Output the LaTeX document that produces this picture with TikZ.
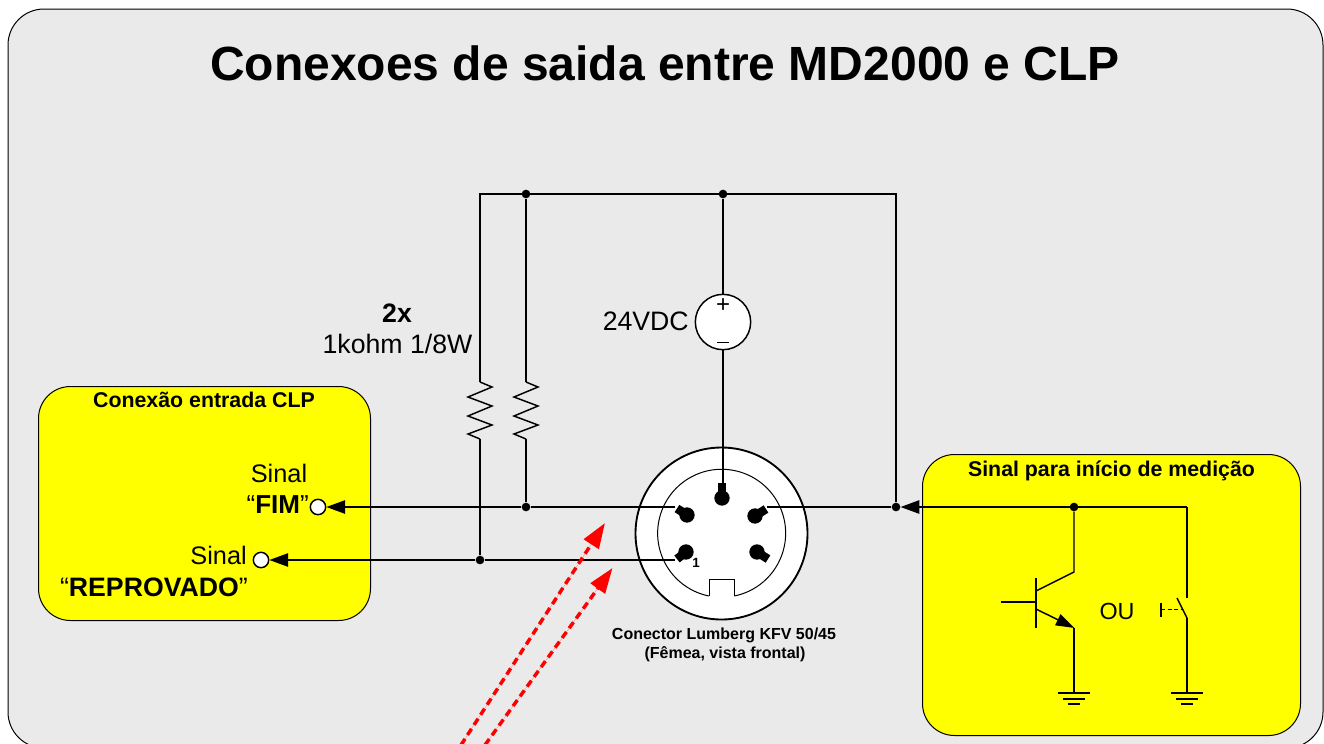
\documentclass[tikz,border=0pt]{standalone}
\usepackage{fontspec}
\setmainfont{Liberation Sans}
\usetikzlibrary{arrows.meta}
\definecolor{panelgray}{RGB}{234,234,234}
\definecolor{boxyellow}{RGB}{255,255,0}
\definecolor{arrowred}{RGB}{255,0,0}
\tikzset{
  x=0.75pt,y=-0.75pt,
  wire/.style={draw=black,line width=1.1pt},
  thin wire/.style={draw=black,line width=0.75pt},
  yellowbox/.style={draw=black,fill=boxyellow,line width=0.75pt},
  dotnode/.style={circle,fill=black,draw=none,inner sep=0pt,minimum size=6.5pt},
  terminal/.style={circle,fill=white,draw=black,line width=1.1pt,inner sep=0pt,minimum size=11.5pt},
  txt/.style={inner sep=0pt,align=center,text=black},
  tip/.style={-{Triangle[length=14pt,width=10pt]}},
  redarrow/.style={draw=arrowred,fill=arrowred,line width=2.6pt,dash pattern=on 5.5pt off 3.5pt,-{Triangle[length=19pt,width=13pt,fill=arrowred,sep=0pt]}},
  pinlead/.style={line width=6.5pt,draw=black},
  pinhead/.style={circle,fill=black,inner sep=0pt,minimum size=11.5pt}
}
\newcommand{\fs}[1]{\fontsize{#1}{#1}\selectfont}
\begin{document}
\begin{tikzpicture}
\useasboundingbox (0,0) rectangle (1324,743);
\begin{scope}
\clip (0,0) rectangle (1324,743);
\draw[draw=black,line width=0.75pt,fill=panelgray,rounded corners=27pt] (8,9) rectangle (1323,748);
\end{scope}
\node[txt] (title) at (665,63.5) {\fs{36}\textbf{Conexoes de saida entre MD2000 e CLP}};
% yellow boxes
\draw[yellowbox,rounded corners=24pt] (38.5,386.5) rectangle (370.5,620.5);
\draw[yellowbox,rounded corners=24pt] (922.5,454.5) rectangle (1300.5,735.5);
\node[txt] (t1) at (204,400) {\fs{16}\textbf{Conexão entrada CLP}};
\node[txt] (t2) at (1111.5,470.5) {\fs{16}\textbf{Sinal para início de medição}};
% coordinates
\coordinate (tl) at (480,194);
\coordinate (tr) at (896,194);
\node[dotnode] (d1) at (526,194) {};
\node[dotnode] (d2) at (723,194) {};
\node[dotnode] (d3) at (526,507) {};
\node[dotnode] (d4) at (480,560) {};
\node[dotnode] (d5) at (896,507) {};
\node[dotnode] (d6) at (1074,507) {};
% connector
\node[circle,draw=black,fill=white,line width=1.4pt,inner sep=0pt,minimum size=129pt] (conn) at (721.5,533.5) {};
\node[terminal] (fim) at (318,507) {};
\node[terminal] (rep) at (261,560) {};
% wires
\coordinate (r1a) at (480,382);
\coordinate (r1b) at (480,439);
\coordinate (r2a) at (526,382);
\coordinate (r2b) at (526,439);
\draw[wire] (d4) -- (r1b);
\draw[wire] (r1a) -- (tl) -- (tr) -- (d5);
\draw[wire] (r2a) -- (d1);
\draw[wire] (r2b) -- (d3);
\foreach \x in {480,526}{
  \draw[wire,line join=miter] (\x,382) -- (\x+12,387) -- (\x-12,397) -- (\x+12,406) -- (\x-12,416) -- (\x+12,425) -- (\x-12,434) -- (\x,439);
}
% source
\node[circle,draw=black,fill=white,line width=1.1pt,inner sep=0pt,minimum size=41.5pt] (src) at (723,322) {};
\draw[wire] (d2) -- (src);
\draw[wire] (src) -- (723,484);
\node[txt] (plus) at (723,306) {\fs{18}+};
\draw[thin wire] (717,342) -- (729,342);
\node[txt,anchor=east] (v) at (689,321) {\fs{20}24VDC};
\node[txt] (x2) at (397,313) {\fs{20}\textbf{2x}};
\node[txt] (r) at (397.5,344) {\fs{20}1kohm 1/8W};
% connector internals
\draw[line width=0.75pt] (709,596) arc[start angle=258.6,end angle=-78.6,radius=48pt];
\draw[line width=0.75pt] (709,596) -- (709,579) -- (734,579) -- (734,596);
% pins
\draw[pinlead] (722,483) -- (722,498);
\node[pinhead] (p0) at (722,498) {};
\draw[pinlead] (677,508.5) -- (687,515);
\node[pinhead] (p1) at (687,515) {};
\draw[pinlead] (677,559) -- (686,552);
\node[pinhead] (p2) at (686,552) {};
\draw[pinlead] (766,509) -- (755,516);
\node[pinhead] (p3) at (755,516) {};
\draw[pinlead] (768,559) -- (757,552);
\node[pinhead] (p4) at (757,552) {};
\node[txt] (one) at (696,563) {\fs{10}\textbf{1}};
% signal wires
\draw[wire] (675,507) -- (d3);
\draw[wire,tip] (d3) -- (fim);
\draw[wire] (675,560) -- (d4);
\draw[wire,tip] (d4) -- (rep);
\draw[wire] (767,507) -- (d5);
\draw[wire,tip] (1187,507) -- (d5);
\draw[wire] (1187,507) -- (1187,598);
% switch
\draw[wire] (1187,618) -- (1187,692);
\draw[wire] (1187,618) -- (1177,598);
\draw[thin wire,dash pattern=on 3pt off 2pt] (1161,609) -- (1182,609);
\draw[wire] (1161,603) -- (1161,617);
% transistor
\draw[wire] (d6) -- (1074,572) -- (1036,591);
\draw[line width=1.5pt] (1036,578) -- (1036,628);
\draw[wire] (1001,602) -- (1036,602);
\draw[wire,-{Triangle[length=14pt,width=9pt]}] (1036,609) -- (1074.5,628);
\draw[wire] (1074,628) -- (1074,692);
\node[txt] (ou) at (1117,611) {\fs{17.5}OU};
% grounds
\foreach \x in {1074,1187}{
  \draw[wire] (\x-16,693) -- (\x+16,693);
  \draw[wire] (\x-11,699) -- (\x+11,699);
  \draw[wire] (\x-6,704) -- (\x+6,704);
}
% labels
\node[txt] (s1) at (279,473) {\fs{19}Sinal};
\node[txt,anchor=east] (s2) at (309,505) {\fs{19.5}“\textbf{FIM}”};
\node[txt,anchor=east] (s3) at (247,555) {\fs{19}Sinal};
\node[txt,anchor=east] (s4) at (248,587) {\fs{20}“\textbf{REPROVADO}”};
\node[txt] (c1) at (724,635) {\fs{12}\textbf{Conector Lumberg KFV 50/45}};
\node[txt] (c2) at (725,654) {\fs{12}\textbf{(Fêmea, vista frontal)}};
% red arrows
\begin{scope}
\clip (0,0) rectangle (1324,743);
\coordinate (a1) at (461,745);
\coordinate (a2) at (605,523);
\coordinate (b1) at (485,745);
\coordinate (b2) at (612.5,568);
\draw[redarrow] (a1) -- (a2);
\draw[redarrow] (b1) -- (b2);
\end{scope}
\end{tikzpicture}
\end{document}
